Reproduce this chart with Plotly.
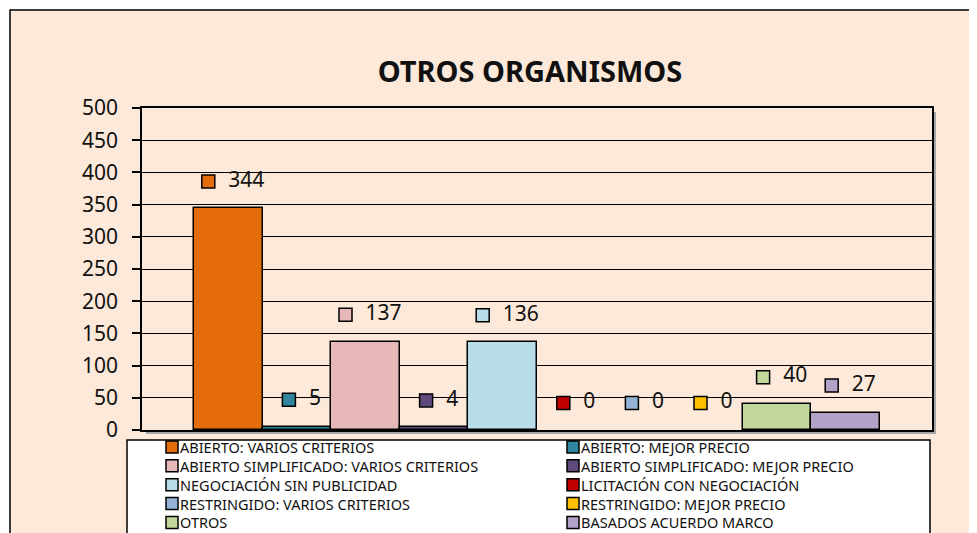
import plotly.graph_objects as go

categories = [
    "ABIERTO: VARIOS CRITERIOS",
    "ABIERTO: MEJOR PRECIO",
    "ABIERTO SIMPLIFICADO: VARIOS CRITERIOS",
    "ABIERTO SIMPLIFICADO: MEJOR PRECIO",
    "NEGOCIACIÓN SIN PUBLICIDAD",
    "LICITACIÓN CON NEGOCIACIÓN",
    "RESTRINGIDO: VARIOS CRITERIOS",
    "RESTRINGIDO: MEJOR PRECIO",
    "OTROS",
    "BASADOS ACUERDO MARCO",
]
values = [344, 5, 137, 4, 136, 0, 0, 0, 40, 27]
colors = ["#E46C0A", "#31859C", "#E6B9B8", "#604A7B", "#B7DEE8",
          "#C00000", "#95B3D7", "#FFC000", "#C3D69B", "#B3A2C7"]
y_ticks = [0, 50, 100, 150, 200, 250, 300, 350, 400, 450, 500]

OFF = 8  # page body margin in the browser
W, H = 977 - OFF, 533 - OFF
# plot area in screen pixels
PL, PR, PT, PB = 142, 932, 108, 430
ML, MT = PL - OFF, PT - OFF
MR, MB = W - (PR - OFF), H - (PB - OFF)
PW, PH = PR - PL, PB - PT
pad = 0.758
xr = [-0.5 - pad, len(values) - 0.5 + pad]
unit_px = PW / (xr[1] - xr[0])
label_gap = 42


def px_x(p):
    return (p - PL) / PW


def px_y(p):
    return (PB - p) / PH


fig = go.Figure()
for i, (name, v, c) in enumerate(zip(categories, values, colors)):
    fig.add_trace(go.Bar(
        x=[i], y=[v], width=1, name=name,
        marker=dict(color=c, line=dict(color="black", width=1.5 if v > 0 else 0)),
        hoverinfo="name+y", showlegend=False,
    ))
for i, (name, v, c) in enumerate(zip(categories, values, colors)):
    n = len(str(v))
    off = (-2 - 6 * n) / unit_px
    fig.add_trace(go.Scatter(
        x=[i + off], y=[v + label_gap], mode="markers+text",
        marker=dict(symbol="square", size=13, color=c, line=dict(color="black", width=1.5)),
        text=["\u00a0\u00a0" + str(v)], textposition="middle right",
        textfont=dict(family="Noto Sans", size=21, color="#111"),
        showlegend=False, hoverinfo="skip",
    ))

shapes = [
    dict(type="rect", xref="paper", yref="paper", layer="below",
         x0=px_x(10), x1=px_x(1000), y0=px_y(600), y1=px_y(10),
         fillcolor="#FDE9D9", line=dict(color="black", width=1.5)),
    dict(type="rect", xref="paper", yref="paper", layer="below",
         x0=px_x(PR), x1=px_x(PR + 4), y0=px_y(PB + 4), y1=px_y(PT + 4),
         fillcolor="#A6A6A6", line=dict(width=0)),
    dict(type="rect", xref="paper", yref="paper", layer="below",
         x0=px_x(PL + 4), x1=px_x(PR + 4), y0=px_y(PB + 4), y1=px_y(PB),
         fillcolor="#A6A6A6", line=dict(width=0)),
    # legend box
    dict(type="rect", xref="paper", yref="paper", layer="below",
         x0=px_x(127), x1=px_x(930), y0=px_y(600), y1=px_y(440),
         fillcolor="white", line=dict(color="black", width=1.5)),
]
annotations = []
leg_font = 14.5
row_h = 1.3 * leg_font
first_row = 447
col_x = [165, 566]
for k, (name, c) in enumerate(zip(categories, colors)):
    r, col = divmod(k, 2)
    x0 = col_x[col]
    yc = first_row + r * row_h
    shapes.append(dict(type="rect", xref="paper", yref="paper",
                       x0=px_x(x0 + 1), x1=px_x(x0 + 13), y0=px_y(yc + 6), y1=px_y(yc - 6),
                       fillcolor=c, line=dict(color="black", width=1.5)))
n_rows = (len(categories) + 1) // 2
for col in range(2):
    names = categories[col::2]
    annotations.append(dict(xref="paper", yref="paper", x=px_x(col_x[col] + 14),
                            y=px_y(first_row + (n_rows - 1) * row_h / 2),
                            xanchor="left", yanchor="middle", align="left", showarrow=False,
                            text="<br>".join(names), borderpad=0,
                            font=dict(family="Noto Sans", size=leg_font, color="#111")))

fig.update_layout(
    width=W, height=H,
    margin=dict(l=ML, r=MR, t=MT, b=MB, autoexpand=False),
    paper_bgcolor="white", plot_bgcolor="#C0C0C0",
    barmode="overlay", bargap=0,
    font=dict(family="Noto Sans", color="#111"),
    title=dict(text="<b>OTROS ORGANISMOS</b>", x=px_x(530), xref="paper", xanchor="center",
               y=1 - (72 - OFF) / H, yanchor="middle",
               font=dict(family="Noto Sans", size=29, color="#111")),
    xaxis=dict(range=xr, showticklabels=False, ticks="", showgrid=False, zeroline=False,
               showline=True, linecolor="black", linewidth=1.5, mirror=True, fixedrange=True),
    yaxis=dict(range=[0, 500], tickvals=y_ticks, showgrid=True, gridcolor="black", gridwidth=1,
               zeroline=False, showline=True, linecolor="black", linewidth=1.5, mirror=True,
               ticks="outside", ticklen=8, tickcolor="black", tickwidth=1.5,
               ticklabelstandoff=10,
               tickfont=dict(family="Noto Sans", size=21, color="#111")),
    shapes=shapes,
    annotations=annotations,
    showlegend=False,
)

fig.write_html("out.html")
